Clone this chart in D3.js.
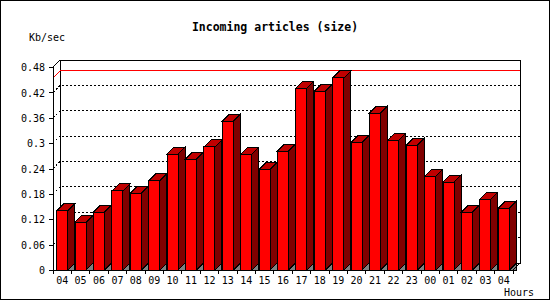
<!DOCTYPE html>
<html>
<head>
<meta charset="utf-8">
<script src="https://cdn.jsdelivr.net/npm/d3@7"></script>
<style>
  body { margin: 0; background: #fff; }
  svg { display: block; }
  text { font-family: "DejaVu Sans Mono", monospace; font-size: 10px; fill: #000; }
</style>
</head>
<body>
<svg id="chart" width="550" height="300"></svg>
<script>
// hours of the day, starting at 04 and wrapping round to 04 again
const hours = ["04", "05", "06", "07", "08", "09", "10", "11", "12", "13", "14", "15", "16",
               "17", "18", "19", "20", "21", "22", "23", "00", "01", "02", "03", "04"];
// Kb/sec per hour
const kbPerSec = [0.140, 0.113, 0.137, 0.187, 0.182, 0.211, 0.274, 0.262, 0.291, 0.352, 0.274, 0.238, 0.281,
                  0.430, 0.423, 0.454, 0.302, 0.371, 0.307, 0.295, 0.222, 0.208, 0.137, 0.167, 0.146];
const yTicks = [0, 0.06, 0.12, 0.18, 0.24, 0.3, 0.36, 0.42, 0.48];

const svg = d3.select("#chart");
const width = 550, height = 300;
const plotLeft = 53, plotRight = 513, plotBottom = 270, plotTop = 67,
      depth = 7; // 3d offset of the back wall

const x = d3.scaleBand().domain(d3.range(hours.length)).range([plotLeft, plotRight]).padding(0);
const y = d3.scaleLinear().domain([0, 0.48]).range([plotBottom, plotTop]);
const bw = x.bandwidth();

svg.attr("shape-rendering", "crispEdges");

// background + frame
svg.append("rect")
    .attr("x", 0.5).attr("y", 0.5)
    .attr("width", width - 1).attr("height", height - 1)
    .attr("fill", "#fff").attr("stroke", "#000");

// back wall
svg.append("rect")
    .attr("x", plotLeft + depth).attr("y", y(0.48) - depth)
    .attr("width", plotRight - plotLeft).attr("height", plotBottom - y(0.48))
    .attr("fill", "#fff").attr("stroke", "#000");

// dotted grid lines, slanting from the front axis to the back wall
svg.append("g")
    .selectAll("path")
    .data(yTicks.filter(t => t > 0 && t < 0.48))
    .join("path")
    .attr("d", t => `M${plotLeft},${y(t)}L${plotLeft + depth},${y(t) - depth}H${plotRight + depth}`)
    .attr("fill", "none")
    .attr("stroke", "#000")
    .attr("stroke-dasharray", "2,2");

// red line at the maximum
const maxV = d3.max(kbPerSec);
svg.append("path")
    .attr("d", `M${plotLeft},${y(maxV)}L${plotLeft + depth},${y(maxV) - depth}H${plotRight + depth}`)
    .attr("fill", "none")
    .attr("stroke", "#f00");

// bars
const bars = svg.append("g").attr("stroke", "#000").attr("stroke-linejoin", "miter");
kbPerSec.forEach((v, i) => {
    const fx = x(i) + bw * 0.2,
        fw = bw * 0.6,
        ty = y(v);
    const g = bars.append("g");
    // floor shadow under the side face
    g.append("path")
        .attr("d", `M${fx + fw},${plotBottom}L${fx + fw + depth},${plotBottom - depth}V${plotBottom}Z`)
        .attr("fill", "#808080");
    // side face
    g.append("path")
        .attr("d", `M${fx + fw},${ty}L${fx + fw + depth},${ty - depth}V${plotBottom - depth}L${fx + fw},${plotBottom}Z`)
        .attr("fill", "#800000");
    // top face
    g.append("path")
        .attr("d", `M${fx},${ty}L${fx + depth},${ty - depth}H${fx + fw + depth}L${fx + fw},${ty}Z`)
        .attr("fill", "#c00000");
    // front face
    g.append("rect")
        .attr("x", fx).attr("y", ty)
        .attr("width", fw).attr("height", plotBottom - ty)
        .attr("fill", "#f00");
});

// axis lines with their 3d corners
svg.append("path")
    .attr("d", `M${plotLeft},${plotBottom}V${y(0.48)}L${plotLeft + depth},${y(0.48) - depth}`)
    .attr("fill", "none").attr("stroke", "#000");
svg.append("path")
    .attr("d", `M${plotLeft},${plotBottom}H${plotRight}L${plotRight + depth},${plotBottom - depth}`)
    .attr("fill", "none").attr("stroke", "#000");

// y axis ticks + labels
const yAxis = svg.append("g")
    .attr("transform", `translate(${plotLeft},0)`)
    .call(d3.axisLeft(y).tickValues(yTicks).tickSize(4).tickPadding(4).tickFormat(d3.format("~g")));
yAxis.select(".domain").remove();
yAxis.attr("font-family", null).attr("font-size", null);
yAxis.selectAll("text").attr("dy", "0.37em");

// x axis: ticks at band edges, labels centred in bands
const edges = d3.range(hours.length + 1).map(i => i < hours.length ? x(i) : plotRight);
svg.append("g").selectAll("line")
    .data(edges)
    .join("line")
    .attr("x1", d => d).attr("x2", d => d)
    .attr("y1", plotBottom).attr("y2", plotBottom + 4)
    .attr("stroke", "#000");
svg.append("g").selectAll("text")
    .data(hours)
    .join("text")
    .attr("x", (d, i) => x(i) + bw / 2)
    .attr("y", 284)
    .attr("text-anchor", "middle")
    .text(d => d);

// titles
svg.append("text")
    .attr("x", width / 2).attr("y", 31)
    .attr("text-anchor", "middle")
    .style("font-size", "11.5px")
    .style("font-weight", "bold")
    .text("Incoming articles (size)");
svg.append("text").attr("x", 29).attr("y", 40.5).text("Kb/sec");
svg.append("text").attr("x", 504).attr("y", 296).text("Hours");
</script>
</body>
</html>
